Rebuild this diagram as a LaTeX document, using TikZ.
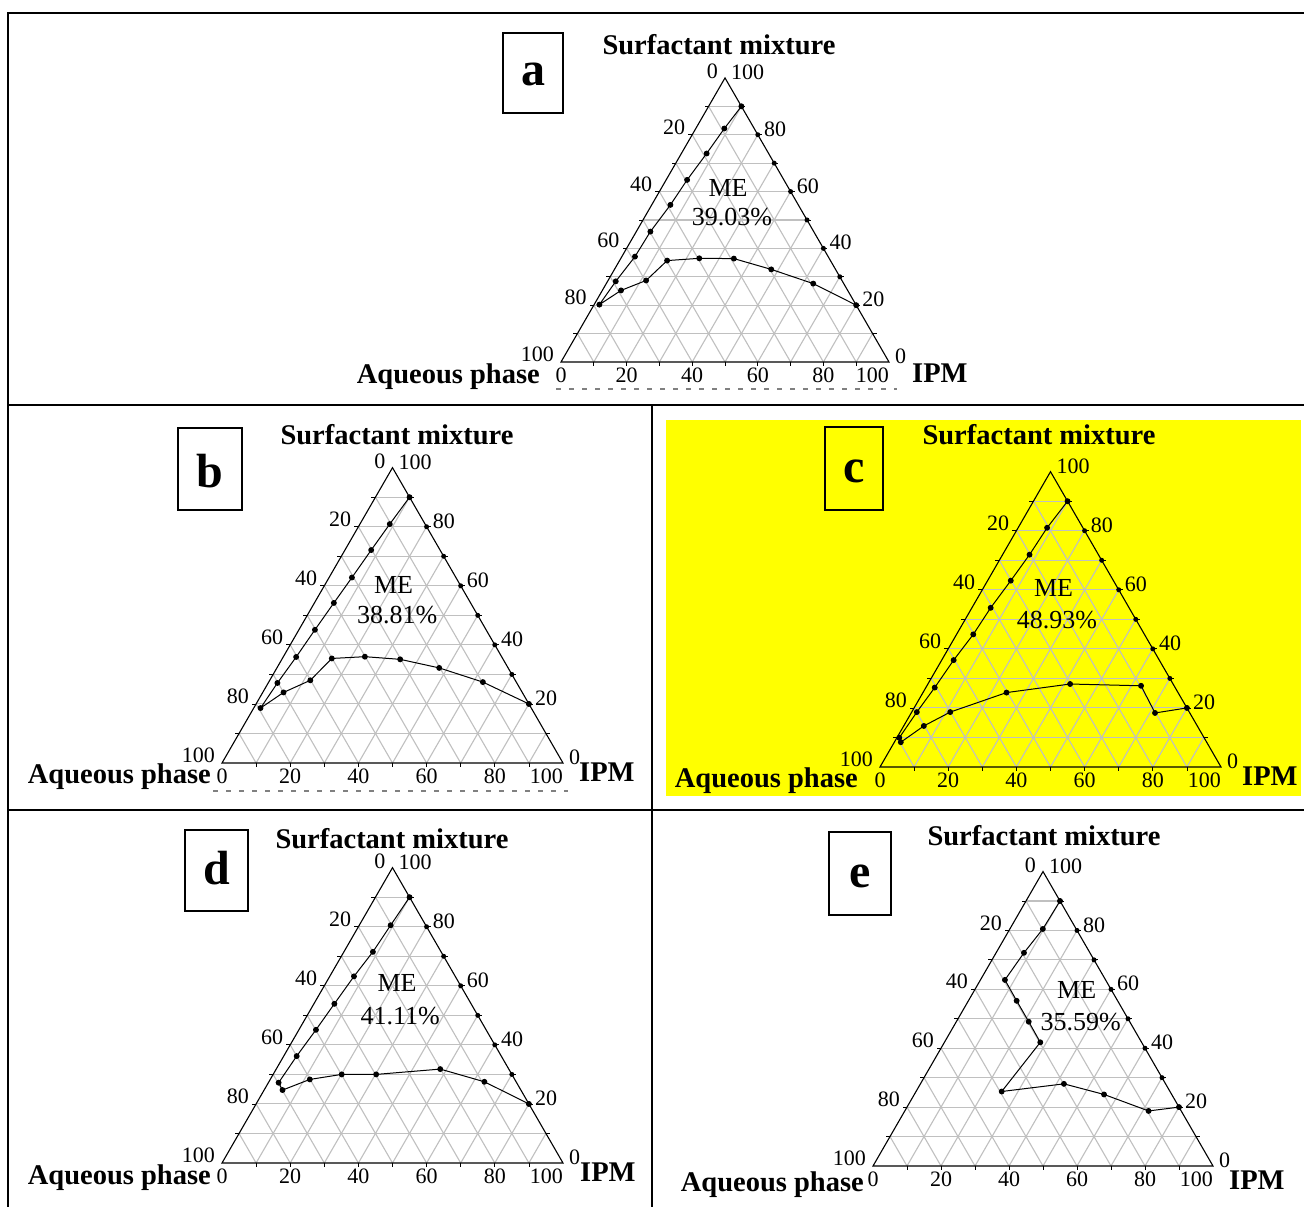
\documentclass[tikz,border=0pt]{standalone}
\usepackage{fontspec}
\setmainfont{Liberation Serif}
\definecolor{gridgray}{RGB}{192,192,192}
\definecolor{panelyellow}{RGB}{255,255,0}
\tikzset{
  tern/.style n args={3}{shift={(#1pt,-#2pt)},x={(#3pt/10,0pt)},y={(#3pt/20,#3pt*0.0866025)}},
  gridline/.style={draw=gridgray,line width=1.1pt},
  axisline/.style={draw=black,line width=1.1pt},
  ticksty/.style={draw=black,line width=0.8pt},
  ctrline/.style={draw=black,line width=1pt},
  numlab/.style={font=\fontsize{22}{22}\selectfont,inner sep=0pt},
  ttl/.style={font=\fontsize{28.5}{28.5}\selectfont\bfseries,inner sep=0pt},
  melab/.style={font=\fontsize{26}{26}\selectfont,inner sep=0pt},
  boxsty/.style={draw=black,line width=1.2pt},
  letsty/.style={font=\fontsize{48}{48}\selectfont\bfseries,inner sep=0pt},
  outerline/.style={draw=black,line width=2pt},
  cutmarks/.style={draw=gray,line width=1.2pt,dash pattern=on 5pt off 8pt},
}
\newcommand\terngrid{%
  \foreach \k in {1,...,9}{%
    \draw[gridline] (0,\k) -- (10-\k,\k);
    \draw[gridline] (\k,0) -- (\k,10-\k);
    \draw[gridline] (\k,0) -- (0,\k);
  }%
  \draw[axisline] (0,0) -- (10,0) -- (0,10) -- cycle;
  \foreach \k in {1,...,9}{%
    \draw[ticksty] (\k,0) -- ++(0pt,-4pt);
    \draw[ticksty] (0,\k) -- ++(-4pt,0pt);
    \draw[ticksty] (10-\k,\k) -- ++(4pt,0pt);
  }%
  \foreach \k in {2,...,9}{%
    \fill[black] (10-\k,\k) circle (2.5pt);
  }%
}
\newcommand\ternlabels[2]{%
  \foreach \v in {20,40,60,80,100}{%
    \node[numlab,anchor=south east,xshift=-7pt,yshift=0pt] (#1L\v) at (0,10-\v/10) {\v};
  }%
  \ifnum#2=1 \node[numlab,anchor=south east,xshift=-7pt,yshift=-1pt] (#1L0) at (0,10) {0};\fi
  \foreach \v in {0,20,...,100}{%
    \node[numlab,anchor=south west,xshift=6pt,yshift=-2pt] (#1R\v) at (10-\v/10,\v/10) {\v};
  }%
  \foreach \v in {0,20,40,60,80}{%
    \node[numlab,anchor=north,yshift=-6pt] (#1B\v) at (\v/10,0) {\v};
  }%
  \node[numlab,anchor=north east,yshift=-6pt] (#1B100) at (10,0) {100};
}
\begin{document}
\begin{tikzpicture}[x=1pt,y=-1pt]
\useasboundingbox (0,0) rectangle (1304,1207);
\fill[white] (0,0) rectangle (1304,1207);
% yellow background of panel c
\fill[panelyellow] (666,420) rectangle (1301,796);

% ---------------- panel a
\begin{scope}[tern={561}{362}{328}]
  \terngrid
  \ternlabels{a}{1}
  \draw[ctrline] plot[mark=*,mark size=2.4pt] coordinates {(1,9) (0.87,8.22) (0.77,7.34) (0.64,6.41) (0.57,5.53) (0.43,4.59) (0.40,3.71) (0.25,2.84) (0.16,2.02) (0.57,2.52) (1.16,2.87) (1.45,3.57) (2.39,3.65) (3.45,3.64) (4.78,3.26) (6.31,2.76) (8,2)};
\end{scope}
\node[ttl,anchor=base] (aSM) at (719,55) {Surfactant mixture};
\node[ttl,anchor=base east] (aAP) at (540,383) {Aqueous phase};
\node[ttl,anchor=base west] (aIPM) at (912,382) {IPM};
\node[melab] (aME) at (728,187.5) {ME};
\node[melab] (aPC) at (732,217.5) {39.03\%};
\draw[boxsty] (503,33) rectangle (563,113);
\node[letsty,anchor=base] (aLet) at (533,85) {a};
\draw[cutmarks] (556,389) -- (897,389);

% ---------------- panel b
\begin{scope}[tern={222}{763}{341}]
  \terngrid
  \ternlabels{b}{1}
  \draw[ctrline] plot[mark=*,mark size=2.4pt] coordinates {(1,9) (0.875,8.09) (0.77,7.21) (0.67,6.28) (0.57,5.42) (0.47,4.51) (0.38,3.59) (0.27,2.71) (0.20,1.86) (0.61,2.39) (1.19,2.80) (1.45,3.54) (2.39,3.60) (3.47,3.51) (4.76,3.22) (6.28,2.74) (8,2)};
\end{scope}
\node[ttl,anchor=base] (bSM) at (397,444) {Surfactant mixture};
\node[ttl,anchor=base east] (bAP) at (211,783) {Aqueous phase};
\node[ttl,anchor=base west] (bIPM) at (579,781) {IPM};
\node[melab] (bME) at (393.5,584.5) {ME};
\node[melab] (bPC) at (397.3,615.5) {38.81\%};
\draw[boxsty] (178,428) rectangle (242,510);
\node[letsty,anchor=base] (bLet) at (210,487) {b};
\draw[cutmarks] (213,791) -- (568,791);

% ---------------- panel c
\begin{scope}[tern={880}{767}{341}]
  \terngrid
  \ternlabels{c}{0}
  \draw[ctrline] plot[mark=*,mark size=2.4pt] coordinates {(1,9) (0.85,8.10) (0.79,7.19) (0.68,6.31) (0.55,5.39) (0.49,4.49) (0.35,3.62) (0.26,2.69) (0.15,1.86) (0.07,0.99) (0.19,0.84) (0.59,1.39) (1.13,1.86) (2.45,2.52) (4.17,2.81) (6.28,2.75) (7.15,1.83) (8,2)};
\end{scope}
\node[ttl,anchor=base] (cSM) at (1039,444) {Surfactant mixture};
\node[ttl,anchor=base east] (cAP) at (858,787) {Aqueous phase};
\node[ttl,anchor=base west] (cIPM) at (1242,785) {IPM};
\node[melab] (cME) at (1053.5,588.3) {ME};
\node[melab] (cPC) at (1057,619.7) {48.93\%};
\draw[boxsty] (825,427) rectangle (883,510);
\node[letsty,anchor=base] (cLet) at (854,482) {c};

% ---------------- panel d
\begin{scope}[tern={222}{1163}{341}]
  \terngrid
  \ternlabels{d}{1}
  \draw[ctrline] plot[mark=*,mark size=2.4pt] coordinates {(1,9) (0.92,8.05) (0.85,7.15) (0.71,6.32) (0.60,5.39) (0.50,4.51) (0.38,3.62) (0.30,2.72) (0.54,2.47) (1.16,2.83) (2.01,3.00) (3.02,3.00) (4.81,3.18) (6.32,2.75) (8,2)};
\end{scope}
\node[ttl,anchor=base] (dSM) at (392,848) {Surfactant mixture};
\node[ttl,anchor=base east] (dAP) at (211,1184) {Aqueous phase};
\node[ttl,anchor=base west] (dIPM) at (580,1181) {IPM};
\node[melab] (dME) at (397,983.3) {ME};
\node[melab] (dPC) at (400.3,1016.3) {41.11\%};
\draw[boxsty] (185,830) rectangle (248,911);
\node[letsty,anchor=base] (dLet) at (216.5,884) {d};

% ---------------- panel e
\begin{scope}[tern={873}{1166}{340}]
  \terngrid
  \ternlabels{e}{1}
  \draw[ctrline] plot[mark=*,mark size=2.4pt] coordinates {(1,9) (0.97,8.05) (0.82,7.24) (0.72,6.32) (1.42,5.61) (2.13,4.90) (2.82,4.20) (2.52,2.53) (4.22,2.79) (5.58,2.43) (7.17,1.87) (8,2)};
\end{scope}
\node[ttl,anchor=base] (eSM) at (1044,845) {Surfactant mixture};
\node[ttl,anchor=base east] (eAP) at (864,1191) {Aqueous phase};
\node[ttl,anchor=base west] (eIPM) at (1229,1189) {IPM};
\node[melab] (eME) at (1076.7,989.7) {ME};
\node[melab] (ePC) at (1080.8,1021.7) {35.59\%};
\draw[boxsty] (829,832) rectangle (891,915);
\node[letsty,anchor=base] (eLet) at (860,887) {e};

% ---------------- frame
\draw[outerline] (1304,13) -- (7.5,13) -- (7.5,1207);
\draw[outerline] (7.5,405) -- (1304,405);
\draw[outerline] (7.5,810) -- (1304,810);
\draw[outerline] (652,405) -- (652,1207);
\end{tikzpicture}
\end{document}
